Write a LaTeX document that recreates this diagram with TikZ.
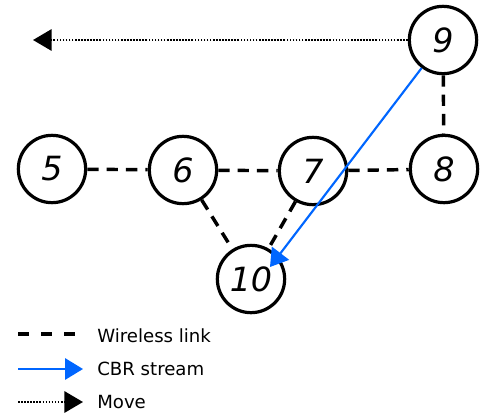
\documentclass[tikz,border=0pt]{standalone}
\usepackage{fontspec}
\setmainfont{DejaVu Sans}
\usepackage{tikz}
\usetikzlibrary{arrows.meta}
\definecolor{streamblue}{RGB}{0,102,255}

\begin{document}
\begin{tikzpicture}[x=0.75pt,y=-0.75pt,
  station/.style={draw,circle,line width=2.4pt,minimum size=50.5pt,inner sep=0pt,font=\fontsize{25}{29}\selectfont\itshape},
  wireless/.style={draw,line width=2.6pt,dash pattern=on 8.5pt off 6pt},
  stream/.style={draw,streamblue,line width=1.6pt,-{Triangle[length=13pt,width=16pt]}},
  move/.style={draw,line width=1.7pt,dash pattern=on 1.2pt off 1.1pt,-{Triangle[length=14pt,width=16pt]}},
  legendtext/.style={anchor=base west,inner sep=0pt,font=\fontsize{13.6}{16}\selectfont}]
  \useasboundingbox (0,0) rectangle (482,415);
  %stations
  \node[station] (n5) at (52,169) {5};
  \node[station] (n6) at (183,170) {6};
  \node[station] (n7) at (313,171) {7};
  \node[station] (n8) at (444,169) {8};
  \node[station] (n9) at (443,40) {9};
  \node[station] (n10) at (251,279) {10};
  %links
  \draw[wireless] (n5) -- (n6);
  \draw[wireless] (n6) -- (n7);
  \draw[wireless] (n7) -- (n8);
  \draw[wireless] (n9) -- (n8);
  \draw[wireless] (n6) -- (n10);
  \draw[wireless] (n7) -- (n10);
  %stream and move
  \coordinate (streamend) at (270,267);
  \coordinate (moveend) at (33,40);
  \draw[stream] (n9) -- (streamend);
  \draw[move] (n9) -- (moveend);
  %legend
  \coordinate (lw1) at (18,334);
  \coordinate (lw2) at (75,334);
  \coordinate (ls1) at (18,369);
  \coordinate (ls2) at (83,369);
  \coordinate (lm1) at (18,402);
  \coordinate (lm2) at (83,402);
  \draw[wireless,dash pattern=on 8.25pt off 9pt] (lw1) -- (lw2);
  \draw[stream,-{Triangle[length=13.5pt,width=16pt]}] (ls1) -- (ls2);
  \draw[move] (lm1) -- (lm2);
  \node[legendtext] (tw) at (97,342) {Wireless link};
  \node[legendtext] (ts) at (97,375) {CBR stream};
  \node[legendtext] (tm) at (97,408) {Move};
\end{tikzpicture}
\end{document}
